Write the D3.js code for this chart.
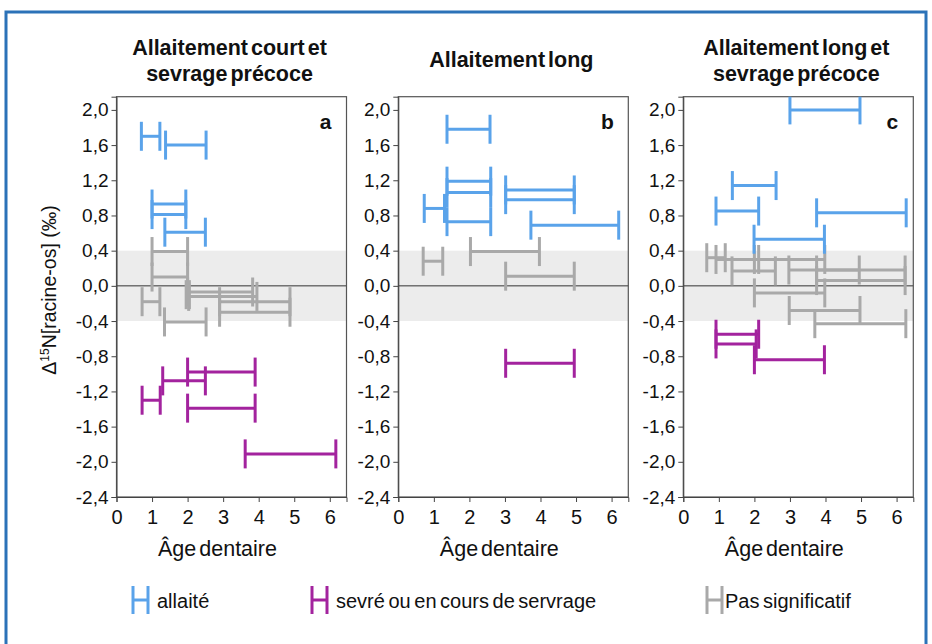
<!DOCTYPE html>
<html><head><meta charset="utf-8">
<script src="https://cdn.jsdelivr.net/npm/d3@7"></script>
<style>body{margin:0;background:#fff}svg{display:block;font-family:"Liberation Sans",Arial,sans-serif}</style>
</head><body><svg id="c" width="932" height="644"></svg>
<script>
// ---- data ----
const panelTitles = [["Allaitement court et","sevrage précoce"],["Allaitement long"],["Allaitement long et","sevrage précoce"]];
const panelLetters = ["a","b","c"];
const seriesNames = ["allaité","sevré ou en cours de servrage","Pas significatif"];
const xTicks = [0,1,2,3,4,5,6];
const yTicks = [2.0,1.6,1.2,0.8,0.4,0.0,-0.4,-0.8,-1.2,-1.6,-2.0,-2.4];
const nsBand = [-0.4, 0.4];
// each entry: [age start, age end, delta15N]
const aAllaite = [[0.7,1.22,1.70],[1.38,2.52,1.60],[1.0,1.95,0.93],[1.0,1.95,0.81],[1.36,2.5,0.61]];
const aSevre = [[2.0,3.9,-0.98],[1.3,2.5,-1.08],[0.72,1.23,-1.30],[2.0,3.9,-1.39],[3.62,6.17,-1.91]];
const aNS = [[1.0,2.0,0.39],[1.0,2.0,0.10],[0.72,1.22,-0.18],[1.35,2.52,-0.41],[2.0,3.83,-0.07],[1.96,2.05,-0.10],[2.03,3.95,-0.12],[2.9,4.88,-0.18],[2.9,4.88,-0.30]];
const bAllaite = [[1.37,2.58,1.78],[1.37,2.6,1.19],[1.37,2.6,1.06],[1.37,2.6,0.73],[3.02,4.95,1.09],[3.02,4.95,0.98],[0.73,1.3,0.88],[3.73,6.2,0.69]];
const bSevre = [[3.02,4.95,-0.88]];
const bNS = [[0.7,1.25,0.28],[2.03,3.97,0.39],[3.02,4.95,0.11]];
const cAllaite = [[3.0,4.97,2.0],[1.38,2.61,1.14],[0.92,2.12,0.85],[3.75,6.27,0.83],[1.99,3.97,0.53]];
const cSevre = [[0.92,2.12,-0.55],[0.92,2.05,-0.66],[2.0,3.97,-0.84]];
const cNS = [[0.66,1.18,0.32],[0.92,2.12,0.30],[2.0,3.98,0.30],[1.37,2.59,0.17],[2.97,4.95,0.18],[3.75,6.24,0.18],[3.75,6.24,0.06],[2.0,3.98,-0.08],[2.98,4.97,-0.28],[3.7,6.26,-0.43]];

const panels = [
  {ns:aNS, al:aAllaite, sv:aSevre},
  {ns:bNS, al:bAllaite, sv:bSevre},
  {ns:cNS, al:cAllaite, sv:cSevre}
];
const colors = ["#5aa3ea","#a3239e","#a9a9a9"];

// ---- layout ----
const svg = d3.select("#c");
svg.append("rect").attr("x",6).attr("y",12).attr("width",920).attr("height",640)
  .attr("fill","none").attr("stroke","#2b72b8").attr("stroke-width",3);

const lefts = [116.5, 398.3, 683.3];
const pw = 230, plotTop = 96.7, plotBottom = 497;
const fmt = d => (d < 0 ? "-" : "") + Math.abs(d).toFixed(1).replace(".", ",");

panels.forEach((p, i) => {
  const x = d3.scaleLinear().domain([0, 6.47]).range([lefts[i], lefts[i] + pw]);
  const y = d3.scaleLinear().domain([-2.4, 2.15]).range([plotBottom, plotTop]);
  const g = svg.append("g");
  // band
  g.append("rect").attr("x", x(0)).attr("width", pw)
    .attr("y", y(nsBand[1])).attr("height", y(nsBand[0]) - y(nsBand[1])).attr("fill", "#ececec");
  g.append("line").attr("x1", x(0)).attr("x2", x(0) + pw).attr("y1", y(0)).attr("y2", y(0))
    .attr("stroke", "#333").attr("stroke-width", 1);
  // frame
  g.append("rect").attr("x", x(0)).attr("y", plotTop).attr("width", pw).attr("height", plotBottom - plotTop)
    .attr("fill", "none").attr("stroke", "#555").attr("stroke-width", 1.2);
  // axes
  const ya = g.append("g").attr("transform", `translate(${x(0)},0)`)
    .call(d3.axisLeft(y).tickValues(yTicks).tickFormat(fmt).tickSize(5).tickPadding(3));
  ya.attr("font-size", 19).attr("font-family", "Liberation Sans, Arial");
  ya.select(".domain").attr("stroke", "#444");
  ya.selectAll("line").attr("stroke", "#444");
  ya.selectAll("text").attr("fill", "#111");
  const xa = g.append("g").attr("transform", `translate(0,${plotBottom})`)
    .call(d3.axisBottom(x).tickValues(xTicks).tickFormat(d3.format("d")).tickSize(5).tickPadding(8));
  xa.attr("font-size", 20).attr("font-family", "Liberation Sans, Arial");
  xa.select(".domain").attr("stroke", "#444");
  xa.selectAll("line").attr("stroke", "#444");
  xa.selectAll("text").attr("fill", "#111");
  // x title
  g.append("text").attr("x", x(0) + pw / 2 - 14).attr("y", 556).attr("text-anchor", "middle")
    .attr("font-size", 21.5).attr("fill", "#111").attr("word-spacing", -3)
    .text("Âge dentaire");
  // panel title
  const tl = panelTitles[i];
  tl.forEach((t, k) => {
    g.append("text").attr("x", x(0) + pw / 2 - 2)
      .attr("y", tl.length === 1 ? 67 : 55 + k * 26)
      .attr("text-anchor", "middle").attr("font-size", 21.5).attr("font-weight", "bold")
      .attr("fill", "#111").attr("word-spacing", -3).text(t);
  });
  // letter
  g.append("text").attr("x", x(0) + pw - 21).attr("y", 129).attr("text-anchor", "middle")
    .attr("font-size", 21).attr("font-weight", "bold").attr("fill", "#111").text(panelLetters[i]);
  // error bars
  const drawBars = (data, color) => {
    const bg = g.append("g").attr("stroke", color).attr("stroke-width", 3).attr("fill", "none");
    data.forEach(([lo, hi, v]) => {
      bg.append("line").attr("x1", x(lo)).attr("x2", x(hi)).attr("y1", y(v)).attr("y2", y(v));
      [lo, hi].forEach(a => bg.append("line").attr("x1", x(a)).attr("x2", x(a))
        .attr("y1", Math.max(plotTop, y(v) - 14.5)).attr("y2", y(v) + 14.5));
    });
  };
  drawBars(p.ns, colors[2]);
  drawBars(p.al, colors[0]);
  drawBars(p.sv, colors[1]);
});

// y axis title
const yt = svg.append("text").attr("transform", "translate(56,290) rotate(-90)")
  .attr("text-anchor", "middle").attr("font-size", 19.5).attr("fill", "#111");
yt.append("tspan").text("Δ");
yt.append("tspan").attr("font-size", 12).attr("dy", -7).text("15");
yt.append("tspan").attr("dy", 7).text("N[racine-os] (‰)");

// legend
const legX = [133, 312, 707];
seriesNames.forEach((n, i) => {
  const lg = svg.append("g").attr("stroke", colors[i]).attr("stroke-width", 3);
  lg.append("line").attr("x1", legX[i]).attr("x2", legX[i]).attr("y1", 586).attr("y2", 614);
  lg.append("line").attr("x1", legX[i] + 15).attr("x2", legX[i] + 15).attr("y1", 586).attr("y2", 614);
  lg.append("line").attr("x1", legX[i]).attr("x2", legX[i] + 15).attr("y1", 600).attr("y2", 600);
  svg.append("text").attr("x", legX[i] + (i === 2 ? 18 : 24)).attr("y", 608).attr("font-size", 20)
    .attr("fill", "#111").attr("word-spacing", -2).text(n);
});
</script></body></html>
